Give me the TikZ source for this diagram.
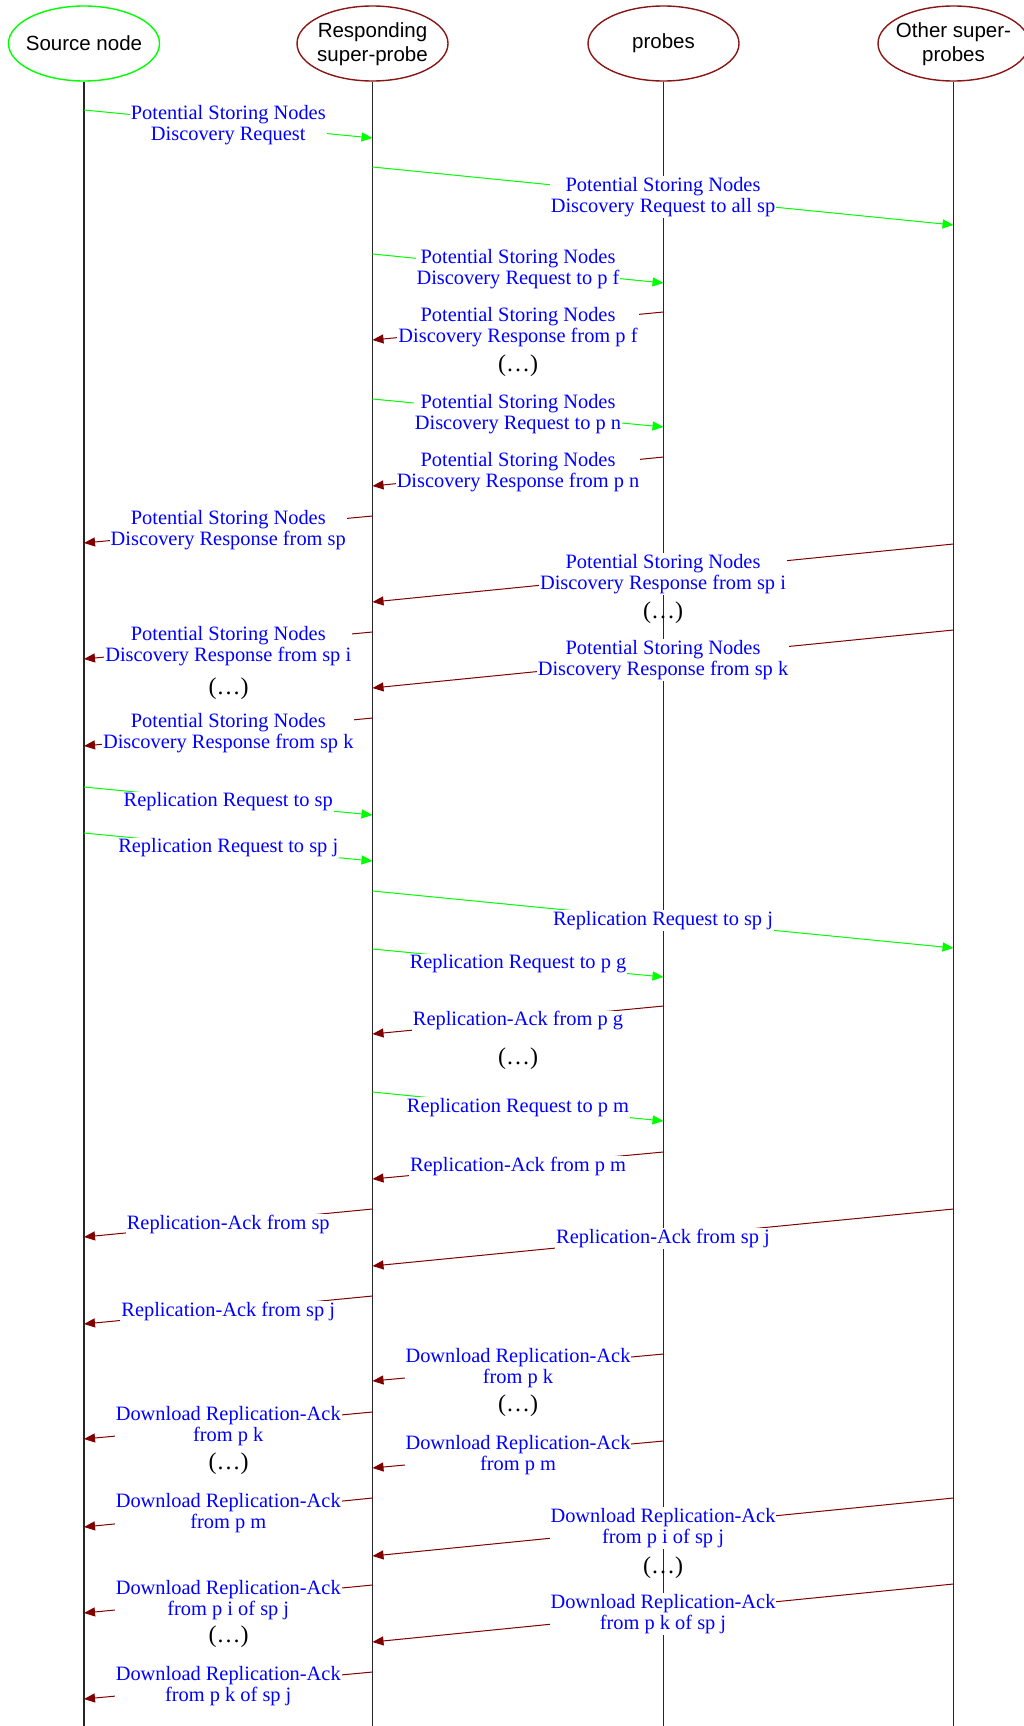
\documentclass[tikz,border=0pt]{standalone}
\usepackage{fontspec}
\setmainfont{Liberation Serif}
\newfontfamily\headfamily{Liberation Sans}
\usetikzlibrary{shapes.geometric,arrows.meta}

\definecolor{reqgreen}{RGB}{0,255,0}
\definecolor{ackred}{RGB}{128,0,0}
\definecolor{headred}{RGB}{139,20,20}
\definecolor{lblblue}{RGB}{0,0,255}

\newcommand\lblsize{\fontsize{20.4}{21}\selectfont}
\newcommand\headsize{\headfamily\fontsize{20.5}{24}\selectfont}
\newcommand\gapsize{\fontsize{24}{24}\selectfont}

\tikzset{
  headshape/.style={ellipse, draw, line width=1.4pt, minimum width=151pt,
    minimum height=75pt, inner sep=0pt},
  headtext/.style={font=\headsize, align=center, inner sep=0pt, text=black},
  lifeline/.style={line width=1.2pt, black!85},
  msglabel/.style={fill=white, text=lblblue, font=\lblsize, align=center,
    inner sep=1pt, yshift=-1pt},
  reqarrow/.style={draw=reqgreen, line width=1pt,
    -{Triangle[length=11pt,width=9pt]}},
  ackarrow/.style={draw=ackred, line width=1pt,
    -{Triangle[length=11pt,width=9pt]}},
  gapmark/.style={font=\gapsize, text=black, inner sep=0pt}
}

% one message: style, sender, receiver, y at sender, y at receiver, label
\newcommand\msg[6]{%
  \draw[#1] (#2 |- 0,#4) -- node[msglabel]{#6} (#3 |- 0,#5);}

\begin{document}
\begin{tikzpicture}[x=1pt,y=-1pt]
\useasboundingbox (0,0) rectangle (1024,1726);
\clip (0,0) rectangle (1024,1726);

% participants
\node[headshape, draw=reqgreen] (src) at (84,43.5) {};
\node[headtext] (srcT) at (src.center) {Source node};
\node[headshape, draw=headred] (rsp) at (372.5,43.5) {};
\node[headtext] (rspT) at ([yshift=-0.5pt]rsp.center) {Responding\\super-probe};
\node[headshape, draw=headred] (prb) at (663.5,43.5) {};
\node[headtext] (prbT) at (prb.center) {probes};
\node[headshape, draw=headred] (oth) at (953.5,43.5) {};
\node[headtext] (othT) at ([yshift=-0.5pt]oth.center) {Other super-\\probes};

% lifelines
\foreach \p in {src,rsp,prb,oth}
  \draw[lifeline] (\p.south) -- (\p |- 0,1730);

% discovery phase
\msg{reqarrow}{src}{rsp}{110}{138}{Potential Storing Nodes\\Discovery Request}
\msg{reqarrow}{rsp}{oth}{167}{225}{Potential Storing Nodes\\Discovery Request to all sp}
\msg{reqarrow}{rsp}{prb}{254}{283}{Potential Storing Nodes\\Discovery Request to p f}
\msg{ackarrow}{prb}{rsp}{312}{340}{Potential Storing Nodes\\Discovery Response from p f}
\node[gapmark] (g1) at (518,366) {(…)};
\msg{reqarrow}{rsp}{prb}{399}{427}{Potential Storing Nodes\\Discovery Request to p n}
\msg{ackarrow}{prb}{rsp}{457}{486}{Potential Storing Nodes\\Discovery Response from p n}
\msg{ackarrow}{rsp}{src}{516}{543}{Potential Storing Nodes\\Discovery Response from sp}
\msg{ackarrow}{oth}{rsp}{544}{602}{Potential Storing Nodes\\Discovery Response from sp i}
\node[gapmark] (g2) at (663,613) {(…)};
\msg{ackarrow}{rsp}{src}{632}{659}{Potential Storing Nodes\\Discovery Response from sp i}
\msg{ackarrow}{oth}{rsp}{630}{688}{Potential Storing Nodes\\Discovery Response from sp k}
\node[gapmark] (g3) at (228.5,689) {(…)};
\msg{ackarrow}{rsp}{src}{718}{746}{Potential Storing Nodes\\Discovery Response from sp k}

% replication phase
\msg{reqarrow}{src}{rsp}{787}{815}{Replication Request to sp}
\msg{reqarrow}{src}{rsp}{833}{861}{Replication Request to sp j}
\msg{reqarrow}{rsp}{oth}{891}{948}{Replication Request to sp j}
\msg{reqarrow}{rsp}{prb}{949}{977}{Replication Request to p g}
\msg{ackarrow}{prb}{rsp}{1006}{1034}{Replication-Ack from p g}
\node[gapmark] (g4) at (518,1059) {(…)};
\msg{reqarrow}{rsp}{prb}{1092}{1121}{Replication Request to p m}
\msg{ackarrow}{prb}{rsp}{1152}{1179}{Replication-Ack from p m}
\msg{ackarrow}{rsp}{src}{1209}{1237}{Replication-Ack from sp}
\msg{ackarrow}{oth}{rsp}{1209}{1266}{Replication-Ack from sp j}
\msg{ackarrow}{rsp}{src}{1296}{1324}{Replication-Ack from sp j}

% download acknowledgements
\msg{ackarrow}{prb}{rsp}{1354}{1381}{Download Replication-Ack\\from p k}
\node[gapmark] (g5) at (518,1406) {(…)};
\msg{ackarrow}{rsp}{src}{1412}{1439}{Download Replication-Ack\\from p k}
\node[gapmark] (g6) at (228.5,1464) {(…)};
\msg{ackarrow}{prb}{rsp}{1441}{1468}{Download Replication-Ack\\from p m}
\msg{ackarrow}{rsp}{src}{1498}{1527}{Download Replication-Ack\\from p m}
\msg{ackarrow}{oth}{rsp}{1498}{1556}{Download Replication-Ack\\from p i of sp j}
\node[gapmark] (g7) at (663,1568) {(…)};
\msg{ackarrow}{rsp}{src}{1585}{1613}{Download Replication-Ack\\from p i of sp j}
\node[gapmark] (g8) at (228.5,1637) {(…)};
\msg{ackarrow}{oth}{rsp}{1584}{1642}{Download Replication-Ack\\from p k of sp j}
\msg{ackarrow}{rsp}{src}{1672}{1699}{Download Replication-Ack\\from p k of sp j}
\end{tikzpicture}
\end{document}
